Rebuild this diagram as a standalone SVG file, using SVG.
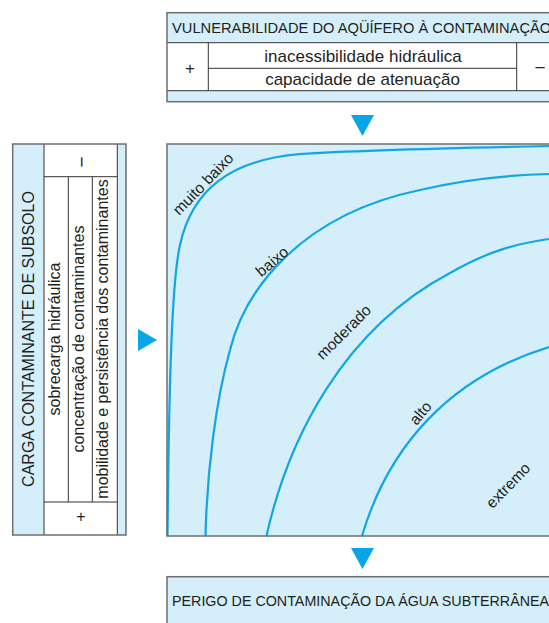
<svg xmlns="http://www.w3.org/2000/svg" width="549" height="623" viewBox="0 0 549 623">
<style>
  .bl{fill:#d4eefa}
  .wh{fill:#ffffff}
  .ob{fill:none;stroke:#6e6e6e;stroke-width:1.5}
  .ln{stroke:#333;stroke-width:1;fill:none}
  .cv{fill:none;stroke:#12a6e2;stroke-width:2.2}
  .ar{fill:#08a6e8}
  text{font-family:"Liberation Sans",Arial,sans-serif;fill:#231f20}
  .hd{font-size:14.7px}
  .rw{font-size:17px;text-anchor:middle}
  .cl{font-size:16px;text-anchor:middle}
  .lb{font-size:15.5px;text-anchor:middle}
</style>
<rect width="549" height="623" fill="#ffffff"/>

<g id="vulnerabilidade">
  <rect class="bl" x="167" y="12.7" width="400" height="30"/>
  <rect class="wh" x="167" y="42.7" width="400" height="48"/>
  <rect class="bl" x="167" y="90.7" width="400" height="11"/>
  <line class="ln" x1="167" y1="42.7" x2="560" y2="42.7"/>
  <line class="ln" x1="167" y1="90.7" x2="560" y2="90.7"/>
  <line class="ln" x1="208.3" y1="42.7" x2="208.3" y2="90.7"/>
  <line class="ln" x1="516.7" y1="42.7" x2="516.7" y2="90.7"/>
  <line class="ln" x1="208.3" y1="68.3" x2="516.7" y2="68.3"/>
  <rect class="ob" x="167" y="12.7" width="400" height="89"/>
  <text class="hd" x="172" y="32.7">VULNERABILIDADE DO AQÜÍFERO À CONTAMINAÇÃO</text>
  <text class="rw" x="363" y="62">inacessibilidade hidráulica</text>
  <text class="rw" x="362.5" y="85">capacidade de atenuação</text>
  <text class="rw" x="190" y="74">+</text>
  <text class="rw" x="540" y="74" style="font-size:19px">−</text>
</g>

<g id="carga">
  <rect class="bl" x="12.7" y="144" width="113.3" height="391"/>
  <rect class="wh" x="44" y="144" width="73.3" height="391"/>
  <line class="ln" x1="44" y1="144" x2="44" y2="535"/>
  <line class="ln" x1="117.3" y1="144" x2="117.3" y2="535"/>
  <line class="ln" x1="44" y1="176.7" x2="117.3" y2="176.7"/>
  <line class="ln" x1="44" y1="502" x2="117.3" y2="502"/>
  <line class="ln" x1="68.3" y1="176.7" x2="68.3" y2="502"/>
  <line class="ln" x1="92.3" y1="176.7" x2="92.3" y2="502"/>
  <rect class="ob" x="12.7" y="144" width="113.3" height="391"/>
  <text class="cl" transform="translate(33.5,339) rotate(-90)">CARGA CONTAMINANTE DE SUBSOLO</text>
  <text class="cl" transform="translate(59.5,339) rotate(-90)">sobrecarga hidráulica</text>
  <text class="cl" transform="translate(83.5,339) rotate(-90)">concentração de contaminantes</text>
  <text class="cl" transform="translate(107.5,339) rotate(-90)">mobilidade e persistência dos contaminantes</text>
  <text class="cl" transform="translate(81,162) rotate(-90)" y="6.5" style="font-size:19px">−</text>
  <text class="cl" x="81" y="522">+</text>
</g>

<g id="grafico">
  <rect class="bl" x="167" y="144" width="400" height="392"/>
  <path class="cv" d="M167.5,536 C169,380 172,280 180,245 C192,190 230,160 300,154 C360,150 450,148 549,146"/>
  <path class="cv" d="M205.5,536 C207,470 216,400 230,350 C245,290 300,215 420,190 C470,178 510,175 549,174"/>
  <path class="cv" d="M266.5,536 C288,440 342,330 450,273 C490,250 520,243 549,239"/>
  <path class="cv" d="M362,536 C388,448 448,378 549,347"/>
  <rect class="ob" x="167" y="144" width="400" height="392"/>
  <text class="lb" transform="translate(203.3,184) rotate(-46)" y="5">muito baixo</text>
  <text class="lb" transform="translate(272.3,261.7) rotate(-40)" y="5">baixo</text>
  <text class="lb" transform="translate(344,332.3) rotate(-45)" y="5">moderado</text>
  <text class="lb" transform="translate(420.7,413.3) rotate(-50)" y="5">alto</text>
  <text class="lb" transform="translate(508.3,485.7) rotate(-46)" y="5">extremo</text>
</g>

<g id="perigo">
  <rect class="bl" x="167" y="576.7" width="400" height="60"/>
  <rect class="ob" x="167" y="576.7" width="400" height="60"/>
  <text class="hd" x="172" y="606" style="font-size:14.3px">PERIGO DE CONTAMINAÇÃO DA ÁGUA SUBTERRÂNEA</text>
</g>

<g id="connectors">
  <polygon class="ar" points="351,115 374,115 362.5,136"/>
  <polygon class="ar" points="138,329 138,351 157,340"/>
  <polygon class="ar" points="351,548 374,548 362.5,569"/>
</g>
</svg>
